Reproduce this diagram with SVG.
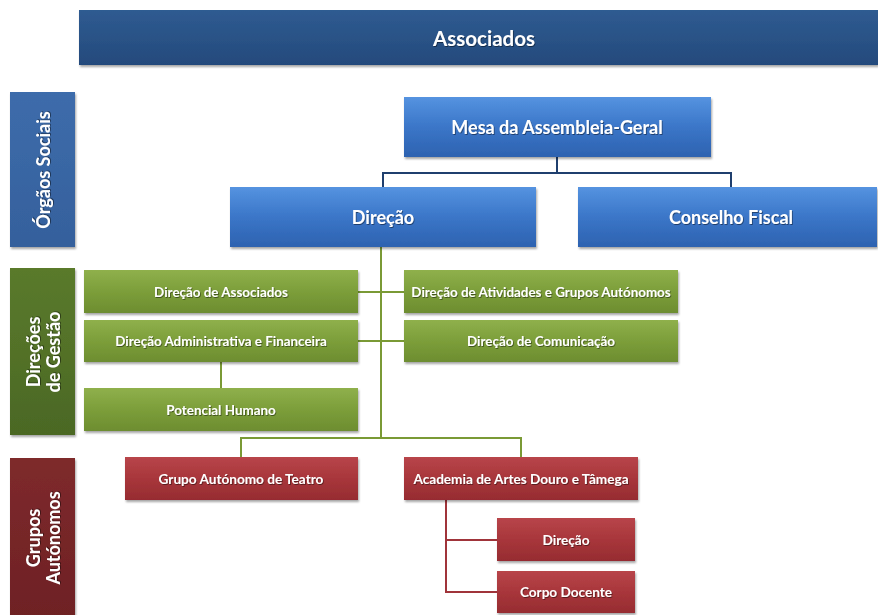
<svg xmlns="http://www.w3.org/2000/svg" width="878" height="615" viewBox="0 0 878 615">
<style>
text{font-family:Lato,"Open Sans","Liberation Sans",sans-serif;font-weight:bold;fill:#fff;text-anchor:middle;dominant-baseline:central}
.t18{font-size:20.5px}.t16{font-size:18px}.t15{font-size:18px}.t12{font-size:13.4px}.t13{font-size:13.6px}
.ln{fill:none;stroke-width:2}
.bl{stroke:#1f3f6e}.gr{stroke:#7a9a35}.rd{stroke:#a0343a}
rect{filter:url(#sh)}
text{filter:url(#ts)}
</style>
<defs>
<linearGradient id="gTop" x1="0" y1="0" x2="0" y2="1"><stop offset="0" stop-color="#2f5b91"/><stop offset="1" stop-color="#244a7c"/></linearGradient>
<linearGradient id="gBlue" x1="0" y1="0" x2="0" y2="1"><stop offset="0" stop-color="#5593e0"/><stop offset="0.5" stop-color="#3b76c8"/><stop offset="1" stop-color="#2d62b0"/></linearGradient>
<linearGradient id="gBlueL" x1="0" y1="0" x2="0" y2="1"><stop offset="0" stop-color="#3d6cab"/><stop offset="1" stop-color="#35609c"/></linearGradient>
<linearGradient id="gGreen" x1="0" y1="0" x2="0" y2="1"><stop offset="0" stop-color="#8fb04c"/><stop offset="0.5" stop-color="#7c9e3a"/><stop offset="1" stop-color="#6d8d30"/></linearGradient>
<linearGradient id="gGreenL" x1="0" y1="0" x2="0" y2="1"><stop offset="0" stop-color="#5a7a2c"/><stop offset="1" stop-color="#4b6824"/></linearGradient>
<linearGradient id="gRed" x1="0" y1="0" x2="0" y2="1"><stop offset="0" stop-color="#b8454a"/><stop offset="0.5" stop-color="#a8363b"/><stop offset="1" stop-color="#962c31"/></linearGradient>
<linearGradient id="gRedL" x1="0" y1="0" x2="0" y2="1"><stop offset="0" stop-color="#7e2a2c"/><stop offset="1" stop-color="#6e2124"/></linearGradient>
<filter id="sh" x="-5%" y="-10%" width="110%" height="125%"><feDropShadow dx="1" dy="2" stdDeviation="1.2" flood-color="#000" flood-opacity="0.35"/></filter>
<filter id="ts" x="-5%" y="-20%" width="110%" height="150%"><feDropShadow dx="0.8" dy="1" stdDeviation="0.6" flood-color="#000" flood-opacity="0.45"/></filter>
</defs>

<g id="connectors">
<path class="ln bl" d="M557 157 V173 M383 187 V173 H731 V187"/>
<path class="ln gr" d="M381 247 V438 M358 292 H404 M358 341 H404 M221 362 V388 M241 457 V438 H521 V457"/>
<path class="ln rd" d="M446 500 V592 H497 M446 540 H497"/>
</g>

<g id="associados"><rect x="79" y="10" width="799" height="55" fill="url(#gTop)"/><text class="t18" x="484" y="38">Associados</text></g>

<g id="lbl-orgaos"><rect x="10" y="92" width="65" height="155" fill="url(#gBlueL)"/><text class="t15" transform="translate(43 170) rotate(-90)">Órgãos Sociais</text></g>
<g id="lbl-direcoes"><rect x="10" y="268" width="65" height="167" fill="url(#gGreenL)"/><text class="t15" transform="translate(43 352) rotate(-90)"><tspan x="0" dy="-10">Direções</tspan><tspan x="0" dy="20">de Gestão</tspan></text></g>
<g id="lbl-grupos"><rect x="10" y="458" width="65" height="160" fill="url(#gRedL)"/><text class="t15" transform="translate(43 538) rotate(-90)"><tspan x="0" dy="-10">Grupos</tspan><tspan x="0" dy="20">Autónomos</tspan></text></g>

<g id="mesa"><rect x="404" y="97" width="307" height="60" fill="url(#gBlue)"/><text class="t16" x="557" y="127">Mesa da Assembleia-Geral</text></g>
<g id="direcao"><rect x="230" y="187" width="306" height="60" fill="url(#gBlue)"/><text class="t16" x="383" y="217">Direção</text></g>
<g id="conselho"><rect x="578" y="187" width="299" height="60" fill="url(#gBlue)"/><text class="t16" x="731" y="217">Conselho Fiscal</text></g>

<g id="dir-associados"><rect x="84" y="270" width="274" height="43" fill="url(#gGreen)"/><text class="t12" x="221" y="292">Direção de Associados</text></g>
<g id="dir-atividades"><rect x="404" y="270" width="274" height="43" fill="url(#gGreen)"/><text class="t12" x="541" y="292">Direção de Atividades e Grupos Autónomos</text></g>
<g id="dir-admin"><rect x="84" y="320" width="274" height="42" fill="url(#gGreen)"/><text class="t12" x="221" y="341">Direção Administrativa e Financeira</text></g>
<g id="dir-comunicacao"><rect x="404" y="320" width="274" height="42" fill="url(#gGreen)"/><text class="t12" x="541" y="341">Direção de Comunicação</text></g>
<g id="potencial"><rect x="84" y="388" width="274" height="43" fill="url(#gGreen)"/><text class="t12" x="221" y="410">Potencial Humano</text></g>

<g id="teatro"><rect x="125" y="457" width="233" height="43" fill="url(#gRed)"/><text class="t13" x="241" y="479">Grupo Autónomo de Teatro</text></g>
<g id="academia"><rect x="404" y="457" width="234" height="43" fill="url(#gRed)"/><text class="t13" x="521" y="479">Academia de Artes Douro e Tâmega</text></g>
<g id="ac-direcao"><rect x="497" y="518" width="138" height="43" fill="url(#gRed)"/><text class="t13" x="566" y="540">Direção</text></g>
<g id="ac-docente"><rect x="497" y="571" width="138" height="42" fill="url(#gRed)"/><text class="t13" x="566" y="592">Corpo Docente</text></g>
</svg>
